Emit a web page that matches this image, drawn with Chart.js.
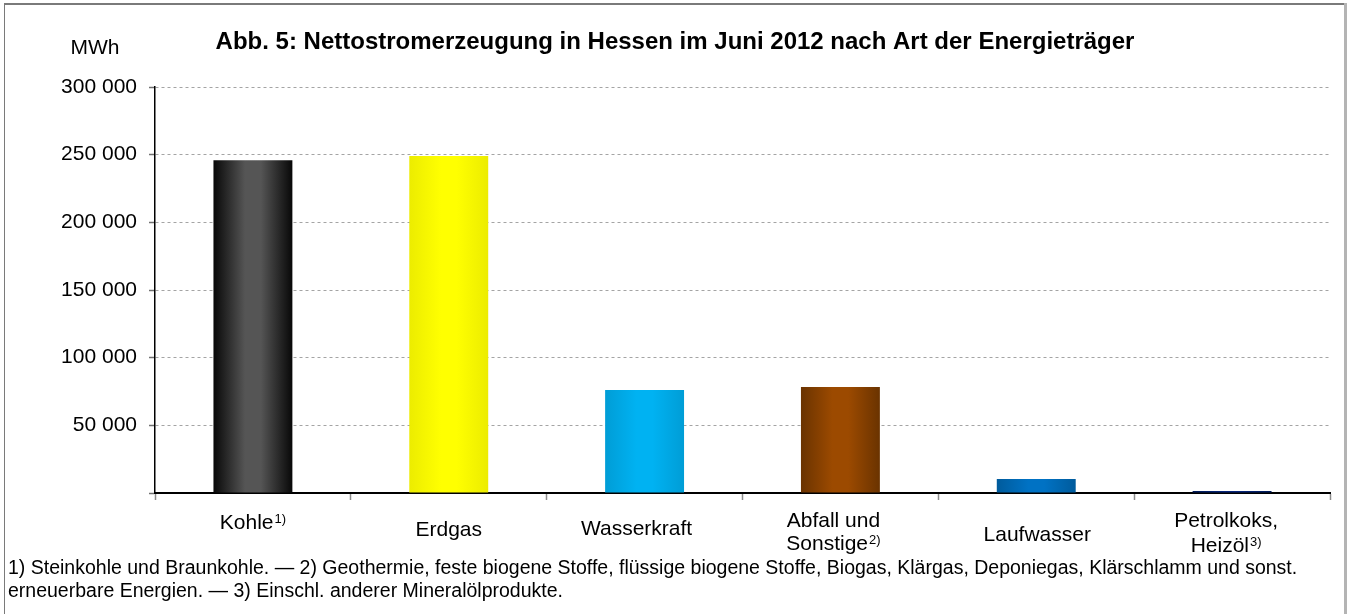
<!DOCTYPE html>
<html>
<head>
<meta charset="utf-8">
<script src="https://cdn.jsdelivr.net/npm/chart.js@4.4.1/dist/chart.umd.min.js"></script>
<style>
  html, body { margin: 0; padding: 0; background: #fff; }
  canvas { display: block; }
</style>
</head>
<body>
<canvas id="chart" width="1349" height="614"></canvas>
<script>
// data
const categories = ['Kohle', 'Erdgas', 'Wasserkraft', 'Abfall und|Sonstige', 'Laufwasser', 'Petrolkoks,|Heizöl']
const footnoteMarks = ['1)', '', '', '2)', '', '3)']
const production = [245800, 249000, 76100, 78300, 10300, 1500]
const yTicks = [0, 50000, 100000, 150000, 200000, 250000, 300000]

const titleText = 'Abb. 5: Nettostromerzeugung in Hessen im Juni 2012 nach Art der Energieträger'
const unitText = 'MWh'
const footnotes = [
  '1) Steinkohle und Braunkohle. — 2) Geothermie, feste biogene Stoffe, flüssige biogene Stoffe, Biogas, Klärgas, Deponiegas, Klärschlamm und sonst.',
  'erneuerbare Energien. — 3) Einschl. anderer Mineralölprodukte.',
]

// bar colours: edge / centre of the horizontal gradient
const edgeColors = ['#080808', '#ecec00', '#009dd6', '#6a3300', '#005b9c', '#001a58']
const midColors = ['#555555', '#ffff00', '#00b2f2', '#9c4a00', '#0072c4', '#06257a']

const FONT = '"Liberation Sans", Arial, sans-serif'
const BAR_FRAC = 0.403

function fmt(v) {
  return String(v).replace(/\B(?=(\d{3})+(?!\d))/g, ' ')
}

function barFill(ctx) {
  const chart = ctx.chart
  const i = ctx.dataIndex
  if (!chart.chartArea || i === undefined) return edgeColors[i || 0]
  const xs = chart.scales.x
  const cx = xs.getPixelForValue(i)
  const w = (xs.width / categories.length) * BAR_FRAC
  const g = chart.ctx.createLinearGradient(cx - w / 2, 0, cx + w / 2, 0)
  g.addColorStop(0, edgeColors[i])
  g.addColorStop(0.4, midColors[i])
  g.addColorStop(0.6, midColors[i])
  g.addColorStop(1, edgeColors[i])
  return g
}

// frame, title, unit, category labels, footnotes
const decorations = {
  id: 'decorations',
  beforeDraw(chart) {
    const c = chart.ctx
    c.save()
    c.fillStyle = '#fff'
    c.fillRect(0, 0, chart.width, chart.height)
    c.fillStyle = '#7a7a7a'
    c.fillRect(4, 3, 1342, 2)
    c.fillRect(4, 3, 1, chart.height)
    c.fillStyle = '#b4b4b4'
    c.fillRect(1344, 3, 3, chart.height)
    c.restore()
  },
  afterDraw(chart) {
    const c = chart.ctx
    const xs = chart.scales.x
    c.save()
    c.fillStyle = '#000'
    c.textBaseline = 'middle'

    c.font = 'bold 24px ' + FONT
    c.textAlign = 'center'
    c.fillText(titleText, 675, 42)

    c.font = '21px ' + FONT
    c.fillText(unitText, 95, 48)

    // category labels (staggered like the original)
    const shiftX = [0, 0, -8, -7, 1, -6]
    const singleY = [523, 530, 529, 0, 535, 0]
    const doubleY = [[0, 0], [0, 0], [0, 0], [521, 544], [0, 0], [521, 546]]
    categories.forEach((label, i) => {
      const cx = xs.getPixelForValue(i) + shiftX[i]
      const lines = label.split('|')
      lines.forEach((line, k) => {
        const y = lines.length === 1 ? singleY[i] : doubleY[i][k]
        const isLast = k === lines.length - 1
        const mark = isLast ? footnoteMarks[i] : ''
        c.font = '21px ' + FONT
        const wMain = c.measureText(line).width
        c.font = '13px ' + FONT
        const wMark = mark ? c.measureText(mark).width + 1 : 0
        const x0 = cx - (wMain + wMark) / 2
        c.textAlign = 'left'
        c.font = '21px ' + FONT
        c.fillText(line, x0, y)
        if (mark) {
          c.font = '13px ' + FONT
          c.fillText(mark, x0 + wMain + 1, y - 4)
        }
      })
    })

    c.font = '19.5px ' + FONT
    c.textAlign = 'left'
    c.fillText(footnotes[0], 8, 569)
    c.fillText(footnotes[1], 8, 592)
    c.restore()
  },
}

new Chart(document.getElementById('chart'), {
  type: 'bar',
  data: {
    labels: categories,
    datasets: [
      {
        data: production,
        backgroundColor: barFill,
        borderWidth: 0,
        categoryPercentage: 1,
        barPercentage: BAR_FRAC,
      },
    ],
  },
  options: {
    responsive: false,
    animation: false,
    events: [],
    layout: {
      padding: { left: 0, top: 87, right: 19, bottom: 0 },
    },
    scales: {
      x: {
        grid: {
          offset: true,
          drawOnChartArea: false,
          tickLength: 7,
          tickColor: '#8c8c8c',
          tickWidth: 1.5,
        },
        border: { color: '#000', width: 2 },
        ticks: { display: false },
        afterFit(scale) {
          scale.height = 614 - 493
        },
      },
      y: {
        min: 0,
        max: 300000,
        afterBuildTicks(scale) {
          scale.ticks = yTicks.map((v) => ({ value: v }))
        },
        grid: {
          color: '#a4a4a4',
          lineWidth: 1,
          tickLength: 6,
          tickColor: '#707070',
          tickWidth: 1.5,
          tickBorderDash: [],
        },
        border: { color: '#000', width: 1.5, dash: [3, 3] },
        ticks: {
          color: '#000',
          padding: 12,
          font: { family: FONT, size: 21 },
          callback: (v) => (v === 0 ? '' : fmt(v)),
        },
        afterFit(scale) {
          scale.width = 155
        },
      },
    },
    plugins: {
      legend: { display: false },
      title: { display: false },
      tooltip: { enabled: false },
    },
  },
  plugins: [decorations],
})
</script>
</body>
</html>
